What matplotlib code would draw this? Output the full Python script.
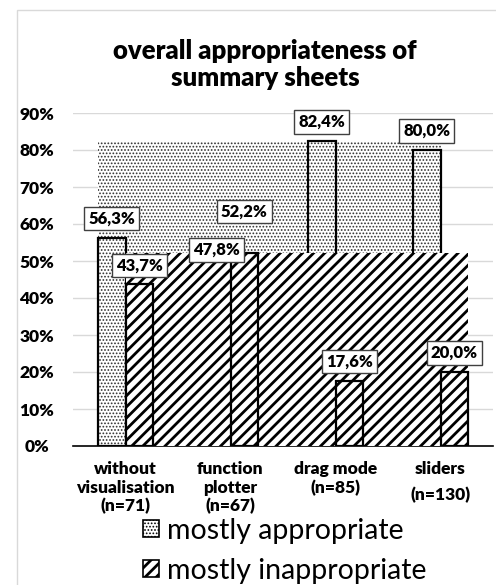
import matplotlib
matplotlib.use("Agg")
import matplotlib as mpl
import matplotlib.pyplot as plt
from matplotlib.patches import Patch, Rectangle
import matplotlib.transforms as mtransforms
import numpy as np

# ---- data ----
CATEGORIES = ["without\nvisualisation\n(n=71)", "function\nplotter\n(n=67)",
              "drag mode\n(n=85)", "sliders\n(n=130)"]
APPROPRIATE = [56.3, 47.8, 82.4, 80.0]
INAPPROPRIATE = [43.7, 52.2, 17.6, 20.0]
YTICKS = [0, 10, 20, 30, 40, 50, 60, 70, 80, 90]

BOLD = ["Lato", "DejaVu Sans"]
DOT_GREY = "#303030"
GRID = "#d9d9d9"
DOTS, STRIPES = ".....", "///"
DOT_LW, STRIPE_LW = 0.8, 2.0


def set_hatch_lw(artists, lw):
    for a in artists:
        if hasattr(a, "set_hatch_linewidth"):
            a.set_hatch_linewidth(lw)


fig = plt.figure(figsize=(4.96, 5.85), dpi=100)
W, H = 496, 585
ax = fig.add_axes([73 / W, 1 - 446 / H, (493 - 73) / W, (446 - 113) / H])

# chart-area frame (only left and top edges fall inside the canvas)
fig.add_artist(Rectangle((17 / W, -0.2), 1.2, 1.2 - 10 / H, transform=fig.transFigure,
                         fill=False, ec=GRID, lw=1.0))

x = np.arange(len(CATEGORIES))
w = 0.265
xa = x - w / 2
xi = x + w / 2

for t in YTICKS[1:]:
    ax.axhline(t, color=GRID, lw=1.0, zorder=0.5)

# dotted series: spread fill + bars
with mpl.rc_context({"hatch.linewidth": DOT_LW}):
    b1 = ax.bar(xa[0] - w / 2, max(APPROPRIATE), width=xa[-1] - xa[0] + w, align="edge",
                facecolor="white", edgecolor=DOT_GREY, hatch=DOTS, lw=0, zorder=1)
    b2 = ax.bar(xa, APPROPRIATE, width=w, facecolor="white", edgecolor=DOT_GREY,
                hatch=DOTS, lw=0, zorder=2)
set_hatch_lw(list(b1) + list(b2), DOT_LW)
ax.bar(xa, APPROPRIATE, width=w, fill=False, edgecolor="black", lw=1.6, zorder=2.1)

# striped series: spread fill + bars
with mpl.rc_context({"hatch.linewidth": STRIPE_LW}):
    b1 = ax.bar(xi[0] - w / 2, max(INAPPROPRIATE), width=xi[-1] - xi[0] + w, align="edge",
                facecolor="white", edgecolor="black", hatch=STRIPES, lw=0, zorder=3)
    b2 = ax.bar(xi, INAPPROPRIATE, width=w, facecolor="white", edgecolor="black",
                hatch=STRIPES, lw=0, zorder=4)
set_hatch_lw(list(b1) + list(b2), STRIPE_LW)
ax.bar(xi, INAPPROPRIATE, width=w, fill=False, edgecolor="black", lw=1.6, zorder=4.1)

# value labels
box = dict(boxstyle="square,pad=0.22", fc="white", ec="#404040", lw=1.0)
lift_a = [4, 4, 4, 4]
lift_i = [4, 20, 4, 4]
for xs, vals, lifts in ((xa, APPROPRIATE, lift_a), (xi, INAPPROPRIATE, lift_i)):
    for xv, v, d in zip(xs, vals, lifts):
        ax.annotate(f"{v:.1f}%".replace(".", ","), xy=(xv, v), xytext=(0, d + 4),
                    textcoords="offset points", ha="center", va="bottom",
                    fontsize=12, fontweight="heavy", family=BOLD, bbox=box,
                    zorder=6, annotation_clip=False)

ax.set_xlim(-0.5, 3.5)
ax.set_ylim(0, 90)
ax.set_yticks(YTICKS)
ax.set_yticklabels([f"{t}%" for t in YTICKS], fontsize=12.5, fontweight="heavy",
                   family=BOLD, ha="center")
ax.tick_params(axis="y", length=0, pad=26)
ax.set_xticks([])
for s in ("left", "right", "top"):
    ax.spines[s].set_visible(False)
ax.spines["bottom"].set_color("black")
ax.spines["bottom"].set_linewidth(1.2)

# category labels
trans = mtransforms.blended_transform_factory(ax.transData, ax.transAxes)
spacing = [1.2, 1.2, 1.2, 1.75]
for xv, lab, ls in zip(x, CATEGORIES, spacing):
    ax.text(xv, -0.045, lab, transform=trans, ha="center", va="top", fontsize=12.5,
            fontweight="heavy", family=BOLD, linespacing=ls)

fig.text(265 / W, 1 - 39 / H, "overall appropriateness of\nsummary sheets",
         ha="center", va="top", fontsize=18.5, fontweight="heavy", family=BOLD,
         linespacing=1.15)

with mpl.rc_context({"hatch.linewidth": DOT_LW}):
    h1 = Patch(facecolor="white", edgecolor="black", hatch=DOTS, lw=1.2,
               label="mostly appropriate")
with mpl.rc_context({"hatch.linewidth": STRIPE_LW}):
    h2 = Patch(facecolor="white", edgecolor="black", hatch=STRIPES, lw=1.2,
               label="mostly inappropriate")
leg = fig.legend(handles=[h1, h2], loc="lower center", bbox_to_anchor=(285 / W, -0.032),
                 frameon=False, prop={"family": ["Lato", "DejaVu Sans"], "size": 20.5},
                 handlelength=0.55, handleheight=0.55, handletextpad=0.3,
                 labelspacing=0.5, borderpad=0.2)
set_hatch_lw(leg.legend_handles[:1], DOT_LW)
set_hatch_lw(leg.legend_handles[1:], STRIPE_LW)

fig.savefig("out.png", dpi=100)
